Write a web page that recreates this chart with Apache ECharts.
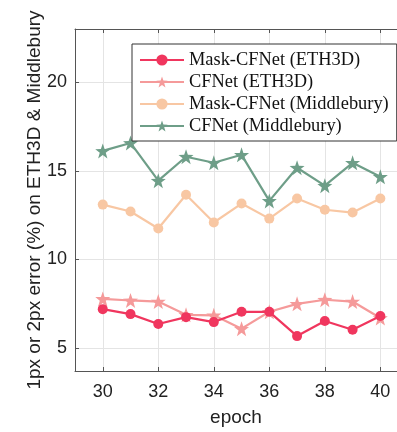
<!DOCTYPE html>
<html>
<head>
<meta charset="utf-8">
<script src="https://cdn.jsdelivr.net/npm/echarts@6/dist/echarts.min.js"></script>
<style>html,body{margin:0;padding:0;background:#fff}#c{width:397px;height:432px}</style>
</head>
<body>
<div id="c"></div>
<script>
const epochs = [30,31,32,33,34,35,36,37,38,39,40];
const maskEth = [7.19,6.91,6.35,6.74,6.46,7.04,7.04,5.67,6.52,6.03,6.80];
const cfEth = [7.77,7.68,7.62,6.87,6.84,6.09,7.04,7.49,7.72,7.62,6.69];
const maskMid = [13.09,12.70,11.74,13.65,12.08,13.15,12.30,13.43,12.80,12.64,13.43];
const cfMid = [16.12,16.57,14.44,15.79,15.45,15.90,13.30,15.17,14.16,15.45,14.66];
const xTicks = [30,32,34,36,38,40];
const yTicks = [5,10,15,20];
const names = ['Mask-CFNet (ETH3D)','CFNet (ETH3D)','Mask-CFNet (Middlebury)','CFNet (Middlebury)'];

const chart = echarts.init(document.getElementById('c'), null, {renderer:'canvas'});
const star = 'path://M0,-10 L2.35,-3.24 L9.51,-3.09 L3.8,1.24 L5.88,8.09 L0,4 L-5.88,8.09 L-3.8,1.24 L-9.51,-3.09 L-2.35,-3.24 Z';
function mk(name, vals, color, symbol, size, z){
  return {
    name, type:'line', data: epochs.map((e,i)=>[e, vals[i]]),
    symbol, symbolSize:size, z,
    lineStyle:{color, width:2.2},
    itemStyle:{color}
  };
}
const axisCol = '#555';
chart.setOption({
  animation:false,
  backgroundColor:'#fff',
  grid:{left:75, top:29, right:0, bottom:59},
  legend:{
    orient:'vertical', left:132, top:44,
    padding:[7,8,6,7], itemGap:4, itemWidth:44, itemHeight:14,
    borderColor:'#333', borderWidth:1, backgroundColor:'#fff',
    textStyle:{fontFamily:'Liberation Serif', fontSize:18.4, color:'#111'},
    data:names
  },
  xAxis:[{
    type:'value', min:29, max:40.6,
    name:'epoch', nameLocation:'middle', nameGap:37,
    nameTextStyle:{fontFamily:'Liberation Sans', fontSize:19, color:'#222'},
    axisLine:{show:true, lineStyle:{color:axisCol}},
    axisTick:{show:true, inside:true, length:4, customValues:xTicks, lineStyle:{color:axisCol}},
    axisLabel:{customValues:xTicks, fontFamily:'Liberation Sans', fontSize:18, color:'#222', margin:12},
    splitLine:{show:true, lineStyle:{color:'#e4e4e4', width:1}}
  },{
    type:'value', min:29, max:40.6, position:'top',
    axisLine:{show:true, lineStyle:{color:axisCol}},
    axisTick:{show:true, inside:true, length:4, customValues:xTicks, lineStyle:{color:axisCol}},
    axisLabel:{show:false}, splitLine:{show:false}
  }],
  yAxis:{
    type:'value', min:3.7, max:23,
    name:'1px or 2px error (%) on ETH3D & Middlebury', nameLocation:'middle', nameGap:31,
    nameMoveOverlap:false,
    nameTextStyle:{fontFamily:'Liberation Sans', fontSize:19, color:'#222'},
    axisLine:{show:true, lineStyle:{color:axisCol}},
    axisTick:{show:true, inside:true, length:4, customValues:yTicks, lineStyle:{color:axisCol}},
    axisLabel:{customValues:yTicks, fontFamily:'Liberation Sans', fontSize:18, color:'#222', margin:8},
    splitLine:{show:true, lineStyle:{color:'#e4e4e4', width:1}}
  },
  series:[
    mk(names[0], maskEth, '#F0365E', 'circle', 10, 4),
    mk(names[1], cfEth, '#F59A9A', star, 15, 3),
    mk(names[2], maskMid, '#F8C7A3', 'circle', 10, 2),
    mk(names[3], cfMid, '#6E9E88', star, 15, 1)
  ]
});
</script>
</body>
</html>
